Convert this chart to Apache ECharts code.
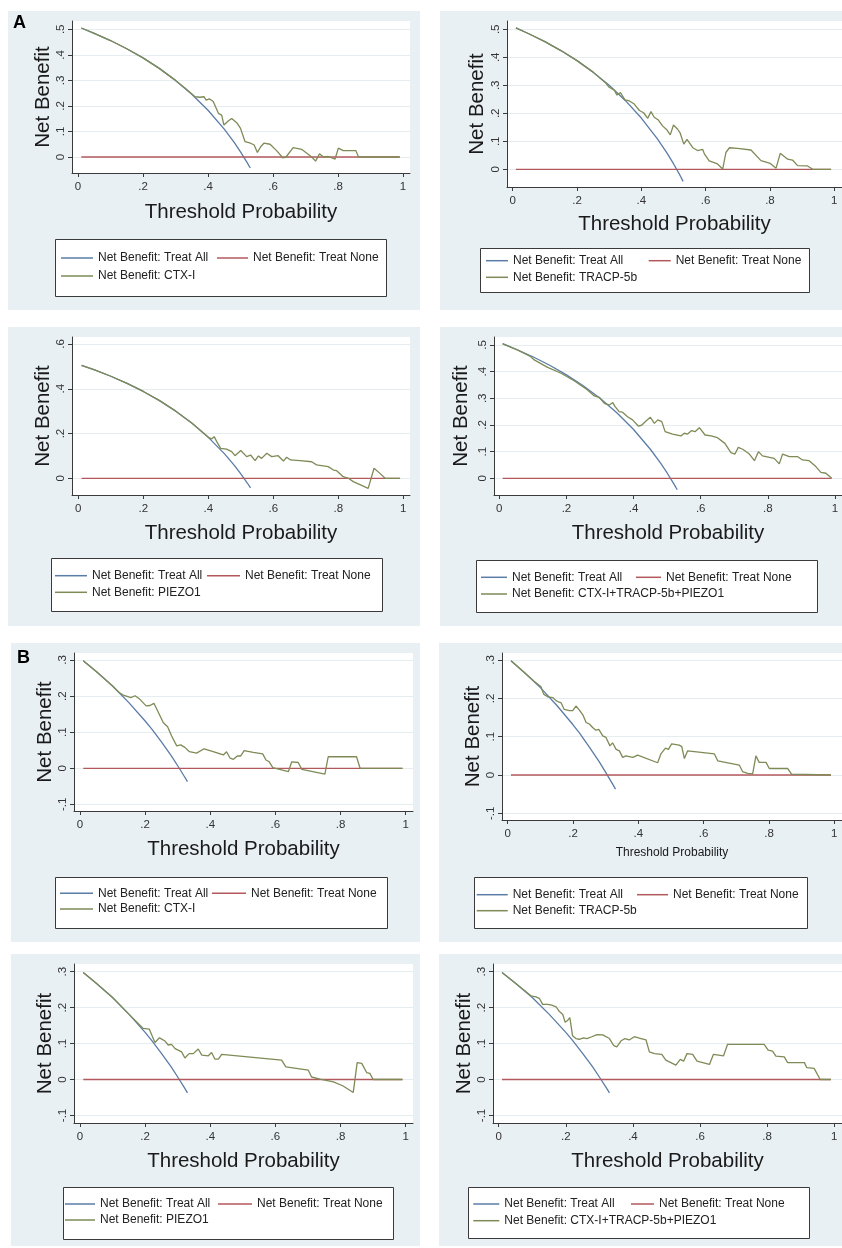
<!DOCTYPE html>
<html><head><meta charset="utf-8">
<script src="https://cdn.jsdelivr.net/npm/echarts@6/dist/echarts.min.js"></script>
<style>html,body{margin:0;padding:0;background:#fff}#c{width:842px;height:1248px}</style>
</head><body><div id="c"></div>
<script>
// ---------------- DATA ----------------
const xTickValues = [0, 0.2, 0.4, 0.6, 0.8, 1];
const yTicksA = [0, 0.1, 0.2, 0.3, 0.4, 0.5];
const yTicksA6 = [0, 0.2, 0.4, 0.6];
const yTicksB = [-0.1, 0, 0.1, 0.2, 0.3];

const nameAll = 'Net Benefit: Treat All';
const nameNone = 'Net Benefit: Treat None';
const modelNames = ['CTX-I', 'TRACP-5b', 'PIEZO1', 'CTX-I+TRACP-5b+PIEZO1', 'CTX-I', 'TRACP-5b', 'PIEZO1', 'CTX-I+TRACP-5b+PIEZO1'];
const panelLetters = ['A', 'B'];

// Treat None
const noneX = [0.01, 0.99];
const noneY = [0, 0];

// Treat All (cohort A / cohort B)
const allXA = [0.01, 0.05, 0.10, 0.15, 0.20, 0.25, 0.30, 0.35, 0.40, 0.45, 0.48, 0.50, 0.52, 0.53];
const allYA = [0.505, 0.484, 0.456, 0.424, 0.388, 0.347, 0.300, 0.246, 0.183, 0.109, 0.058, 0.020, -0.021, -0.043];
const allXB = [0.01, 0.05, 0.10, 0.15, 0.20, 0.22, 0.25, 0.28, 0.30, 0.32, 0.33];
const allYB = [0.298, 0.268, 0.228, 0.182, 0.131, 0.109, 0.073, 0.035, 0.007, -0.022, -0.037];

// Models, cohort A
const ctxAX = [0.01,0.05,0.10,0.15,0.20,0.25,0.30,0.33,0.36,0.375,0.388,0.394,0.404,0.416,0.432,0.442,0.449,0.463,0.473,0.49,0.50,0.514,0.531,0.542,0.552,0.562,0.572,0.591,0.611,0.63,0.64,0.662,0.688,0.709,0.719,0.731,0.743,0.755,0.77,0.791,0.801,0.816,0.855,0.863,0.99];
const ctxAY = [0.505,0.484,0.456,0.424,0.388,0.347,0.300,0.269,0.236,0.234,0.236,0.223,0.228,0.217,0.171,0.164,0.125,0.142,0.151,0.132,0.112,0.06,0.054,0.047,0.018,0.040,0.054,0.05,0.025,-0.003,0.0,0.037,0.03,0.01,0.0,-0.016,0.013,0.0,0.002,-0.008,0.035,0.025,0.025,0,0];

const tracpAX = [0.01,0.05,0.10,0.15,0.20,0.25,0.29,0.30,0.316,0.324,0.335,0.349,0.363,0.378,0.394,0.407,0.42,0.43,0.44,0.453,0.466,0.48,0.49,0.5,0.513,0.521,0.532,0.542,0.56,0.575,0.591,0.596,0.611,0.637,0.653,0.663,0.674,0.699,0.741,0.772,0.801,0.819,0.832,0.855,0.87,0.886,0.917,0.933,0.99];
const tracpAY = [0.505,0.484,0.456,0.424,0.388,0.347,0.307,0.293,0.283,0.265,0.274,0.248,0.244,0.233,0.21,0.202,0.182,0.206,0.186,0.176,0.155,0.14,0.123,0.158,0.143,0.129,0.09,0.107,0.077,0.067,0.071,0.055,0.03,0.019,0.001,0.06,0.077,0.075,0.069,0.031,0.021,0.004,0.057,0.036,0.033,0.013,0.012,0,0];

const piezoAX = [0.01,0.05,0.10,0.15,0.20,0.25,0.30,0.35,0.40,0.41,0.418,0.426,0.438,0.456,0.472,0.482,0.5,0.518,0.53,0.544,0.554,0.564,0.58,0.595,0.615,0.631,0.641,0.653,0.682,0.718,0.733,0.769,0.785,0.795,0.815,0.831,0.846,0.892,0.91,0.928,0.944,0.99];
const piezoAY = [0.505,0.484,0.456,0.424,0.388,0.347,0.300,0.246,0.183,0.176,0.186,0.164,0.134,0.13,0.119,0.101,0.124,0.097,0.104,0.079,0.1,0.089,0.112,0.097,0.101,0.077,0.094,0.082,0.079,0.074,0.06,0.052,0.037,0.034,0.007,0.0,-0.015,-0.045,0.045,0.022,0,0];

const comboAX = [0.01,0.055,0.094,0.104,0.109,0.144,0.184,0.223,0.263,0.283,0.298,0.311,0.318,0.328,0.338,0.345,0.357,0.367,0.382,0.397,0.414,0.424,0.437,0.45,0.462,0.472,0.484,0.494,0.516,0.541,0.551,0.561,0.573,0.583,0.596,0.613,0.631,0.65,0.672,0.69,0.702,0.712,0.725,0.745,0.76,0.772,0.784,0.819,0.834,0.844,0.864,0.889,0.903,0.923,0.943,0.958,0.973,0.99];
const comboAY = [0.504,0.481,0.456,0.444,0.4375,0.416,0.394,0.366,0.331,0.309,0.304,0.284,0.278,0.275,0.284,0.269,0.25,0.248,0.231,0.219,0.196,0.199,0.215,0.229,0.206,0.219,0.2125,0.175,0.166,0.159,0.169,0.166,0.179,0.175,0.19,0.1625,0.159,0.1525,0.131,0.096,0.091,0.116,0.109,0.091,0.066,0.1,0.084,0.075,0.054,0.091,0.081,0.081,0.069,0.066,0.044,0.0225,0.019,0];

// Models, cohort B
const ctxBX = [0.01,0.05,0.10,0.12,0.133,0.156,0.169,0.184,0.203,0.215,0.227,0.233,0.256,0.269,0.281,0.297,0.309,0.322,0.336,0.358,0.381,0.409,0.44,0.45,0.461,0.471,0.483,0.493,0.504,0.532,0.561,0.571,0.581,0.592,0.64,0.65,0.67,0.681,0.752,0.762,0.849,0.86,0.99];
const ctxBY = [0.298,0.268,0.228,0.210,0.203,0.196,0.201,0.191,0.173,0.174,0.18,0.178,0.126,0.115,0.09,0.062,0.065,0.058,0.046,0.042,0.054,0.046,0.037,0.046,0.028,0.025,0.034,0.034,0.049,0.044,0.04,0.023,0.018,0.002,-0.009,0.018,0.016,-0.003,-0.016,0.032,0.032,0,0];

const tracpBX = [0.01,0.05,0.08,0.102,0.11,0.122,0.138,0.148,0.155,0.163,0.173,0.189,0.199,0.209,0.219,0.23,0.24,0.25,0.26,0.27,0.279,0.291,0.301,0.313,0.321,0.332,0.342,0.352,0.362,0.383,0.398,0.459,0.469,0.483,0.492,0.502,0.525,0.533,0.541,0.551,0.633,0.643,0.709,0.719,0.735,0.75,0.76,0.77,0.791,0.801,0.857,0.869,0.99];
const tracpBY = [0.298,0.268,0.245,0.23,0.211,0.204,0.202,0.194,0.191,0.189,0.171,0.168,0.168,0.18,0.17,0.157,0.137,0.133,0.124,0.117,0.119,0.102,0.098,0.076,0.084,0.067,0.063,0.046,0.05,0.046,0.052,0.032,0.055,0.07,0.067,0.081,0.078,0.074,0.043,0.063,0.055,0.037,0.026,0.009,0.004,0.003,0.05,0.033,0.033,0.017,0.017,0.002,0];

const piezoBX = [0.01,0.05,0.10,0.15,0.194,0.213,0.23,0.244,0.261,0.271,0.281,0.292,0.312,0.322,0.335,0.348,0.363,0.374,0.394,0.404,0.414,0.425,0.435,0.619,0.632,0.701,0.711,0.737,0.778,0.808,0.839,0.851,0.865,0.88,0.89,0.9,0.99];
const piezoBY = [0.298,0.268,0.228,0.182,0.142,0.14,0.103,0.116,0.107,0.096,0.098,0.086,0.077,0.06,0.072,0.072,0.085,0.068,0.066,0.075,0.057,0.057,0.07,0.054,0.035,0.026,0.007,0.001,-0.0065,-0.018,-0.036,0.047,0.045,0.0195,0.017,0,0];

const comboBX = [0.01,0.05,0.096,0.111,0.121,0.131,0.146,0.158,0.171,0.181,0.191,0.198,0.206,0.212,0.22,0.23,0.24,0.253,0.263,0.277,0.293,0.31,0.33,0.343,0.352,0.364,0.376,0.389,0.404,0.424,0.439,0.449,0.464,0.486,0.498,0.513,0.528,0.541,0.551,0.561,0.578,0.591,0.608,0.628,0.64,0.67,0.682,0.791,0.803,0.816,0.826,0.851,0.861,0.911,0.918,0.94,0.958,0.99];
const comboBY = [0.298,0.268,0.233,0.23,0.226,0.209,0.209,0.207,0.202,0.189,0.181,0.159,0.165,0.172,0.122,0.114,0.112,0.116,0.114,0.119,0.125,0.124,0.114,0.094,0.091,0.107,0.114,0.11,0.119,0.114,0.11,0.077,0.072,0.07,0.054,0.047,0.04,0.056,0.051,0.072,0.07,0.051,0.047,0.042,0.07,0.066,0.098,0.098,0.082,0.079,0.065,0.063,0.047,0.047,0.033,0.031,0,0];

const panelData = [
  {allX: allXA, allY: allYA, modX: ctxAX,   modY: ctxAY,   yTicks: yTicksA},
  {allX: allXA, allY: allYA, modX: tracpAX, modY: tracpAY, yTicks: yTicksA},
  {allX: allXA, allY: allYA, modX: piezoAX, modY: piezoAY, yTicks: yTicksA6},
  {allX: allXA, allY: allYA, modX: comboAX, modY: comboAY, yTicks: yTicksA},
  {allX: allXB, allY: allYB, modX: ctxBX,   modY: ctxBY,   yTicks: yTicksB},
  {allX: allXB, allY: allYB, modX: tracpBX, modY: tracpBY, yTicks: yTicksB},
  {allX: allXB, allY: allYB, modX: piezoBX, modY: piezoBY, yTicks: yTicksB},
  {allX: allXB, allY: allYB, modX: comboBX, modY: comboBY, yTicks: yTicksB}
];

// ---------------- LAYOUT / STYLE ----------------
const FONT = "'Liberation Sans', Arial, Helvetica, sans-serif";
const C_ALL = '#5a7ca6', C_NONE = '#b3585d', C_MOD = '#7e8b56';
const BG = '#e9f0f3';

const layout = [
  {bg:[8,11,412,299],  grid:[72,21,338,152],  xr:[-0.0185,1.0215], yr:[-0.0626,0.5325], yName:30, xName:39, xSize:20.5,
   box:[55,239,331,57],  leg:[[61,259,32],[217,259,31],[61,277,32]]},
  {bg:[440,11,402,299], grid:[507,21,335,166], xr:[-0.0177,1.024],  yr:[-0.0632,0.5296], yName:33, xName:37, xSize:20.5,
   box:[480,248,329,44], leg:[[486,261.7,22],[648.7,261.7,22],[486,278.3,22]]},
  {bg:[8,327,412,299], grid:[72,337,338,158], xr:[-0.0194,1.0206], yr:[-0.0746,0.6313], yName:30, xName:38, xSize:20.5,
   box:[51,558,331,53],  leg:[[55,576.7,32],[207,576.7,33],[55,593.3,32]]},
  {bg:[440,327,402,299], grid:[494,337,348,158], xr:[-0.0158,1.0209], yr:[-0.0626,0.530], yName:36, xName:38, xSize:20.5,
   box:[476,560,341,52], leg:[[481,578.3,26],[636,578.3,25],[481,595,26]]},
  {bg:[11,643,409,299], grid:[74,653,339,158], xr:[-0.0184,1.0224], yr:[-0.1183,0.3194], yName:29, xName:38, xSize:20.5,
   box:[55,877,332,51],  leg:[[60,894.3,33],[212,894.3,34],[60,910,33]]},
  {bg:[439,643,403,299], grid:[502,653,340,167], xr:[-0.0175,1.0236], yr:[-0.1174,0.3183], yName:29, xName:33, xSize:12,
   box:[474,877,333,51], leg:[[476.7,895.7,31],[637,895.7,31],[476.7,911.7,31]]},
  {bg:[11,954,409,292], grid:[74,964,339,159], xr:[-0.0184,1.0224], yr:[-0.121,0.3214], yName:31, xName:38, xSize:20.5,
   box:[63,1187,330,52], leg:[[65,1205,30],[218,1205,34],[65,1221,30]]},
  {bg:[439,954,403,292], grid:[493,964,349,159], xr:[-0.017,1.023], yr:[-0.121,0.3214], yName:32, xName:38, xSize:20.5,
   box:[468,1187,341,51], leg:[[473.3,1205,26],[631,1205,23],[473.3,1221.7,26]]}
];
const letterPos = [[13, 14], [17, 649]];

function fmt(v) {
  let s = String(+(+v).toFixed(2));
  return s.replace(/^(-?)0\./, '$1.');
}

const chart = echarts.init(document.getElementById('c'), null, {renderer: 'canvas'});
const grids = [], xAxes = [], yAxes = [], series = [], legends = [], graphics = [];

panelData.forEach((p, i) => {
  const L = layout[i];
  const modName = 'Net Benefit: ' + modelNames[i];
  graphics.push({type: 'rect', z: -10, shape: {x: L.bg[0], y: L.bg[1], width: L.bg[2], height: L.bg[3]}, style: {fill: BG}, silent: true});
  graphics.push({type: 'rect', z: 1, shape: {x: L.box[0] + 0.5, y: L.box[1] + 0.5, width: L.box[2], height: L.box[3]}, style: {fill: '#fff', stroke: '#3a3a3a', lineWidth: 1}, silent: true});
  grids.push({left: L.grid[0], top: L.grid[1], width: L.grid[2], height: L.grid[3], show: true, backgroundColor: '#fff', borderWidth: 0, containLabel: false});
  xAxes.push({
    type: 'value', gridIndex: i, min: L.xr[0], max: L.xr[1],
    name: 'Threshold Probability', nameLocation: 'middle', nameGap: L.xName - L.xSize / 2,
    nameTextStyle: {fontSize: L.xSize, color: '#1a1a1a', fontFamily: FONT},
    axisLine: {show: true, onZero: false, lineStyle: {color: '#3a3a3a', width: 1}},
    axisTick: {show: true, length: 4, customValues: xTickValues, lineStyle: {color: '#3a3a3a'}},
    axisLabel: {customValues: xTickValues, formatter: fmt, fontSize: 11.5, color: '#333', fontFamily: FONT, margin: 8},
    splitLine: {show: false}
  });
  yAxes.push({
    type: 'value', gridIndex: i, min: L.yr[0], max: L.yr[1],
    name: 'Net Benefit', nameLocation: 'middle', nameRotate: 90, nameGap: L.yName - 13.5,
    nameTextStyle: {fontSize: 20.5, color: '#1a1a1a', fontFamily: FONT},
    axisLine: {show: true, onZero: false, lineStyle: {color: '#3a3a3a', width: 1}},
    axisTick: {show: true, length: 4, customValues: p.yTicks, lineStyle: {color: '#3a3a3a'}},
    axisLabel: {customValues: p.yTicks, formatter: fmt, rotate: 90, fontSize: 11.5, color: '#333', fontFamily: FONT, margin: 5},
    splitLine: {show: true, lineStyle: {color: '#e6edf0', width: 1}}
  });
  const mk = (xs, ys) => xs.map((x, k) => [x, ys[k]]);
  series.push({type: 'line', name: nameAll, xAxisIndex: i, yAxisIndex: i, data: mk(p.allX, p.allY), showSymbol: false, symbol: 'none',
    lineStyle: {color: C_ALL, width: 1.3}, itemStyle: {color: C_ALL}, z: 2});
  series.push({type: 'line', name: nameNone, xAxisIndex: i, yAxisIndex: i, data: mk(noneX, noneY), showSymbol: false, symbol: 'none',
    lineStyle: {color: C_NONE, width: 1.3}, itemStyle: {color: C_NONE}, z: 2});
  series.push({type: 'line', name: modName, xAxisIndex: i, yAxisIndex: i, data: mk(p.modX, p.modY), showSymbol: false, symbol: 'none',
    lineStyle: {color: C_MOD, width: 1.3}, itemStyle: {color: C_MOD}, z: 3});
  [nameAll, nameNone, modName].forEach((nm, k) => {
    const it = L.leg[k];
    legends.push({data: [nm], left: it[0], top: it[1] - 7, itemWidth: it[2], itemHeight: 1.5, icon: 'rect',
      itemGap: 0, padding: 0, selectedMode: false, z: 5,
      textStyle: {fontSize: 12, color: '#222', fontFamily: FONT}});
  });
});

panelLetters.forEach((t, k) => {
  graphics.push({type: 'text', z: 6, left: letterPos[k][0], top: letterPos[k][1],
    style: {text: t, font: 'bold 18px ' + FONT, fill: '#000'}});
});

chart.setOption({
  animation: false,
  backgroundColor: '#fff',
  grid: grids, xAxis: xAxes, yAxis: yAxes, series: series, legend: legends,
  graphic: graphics
});
</script></body></html>
